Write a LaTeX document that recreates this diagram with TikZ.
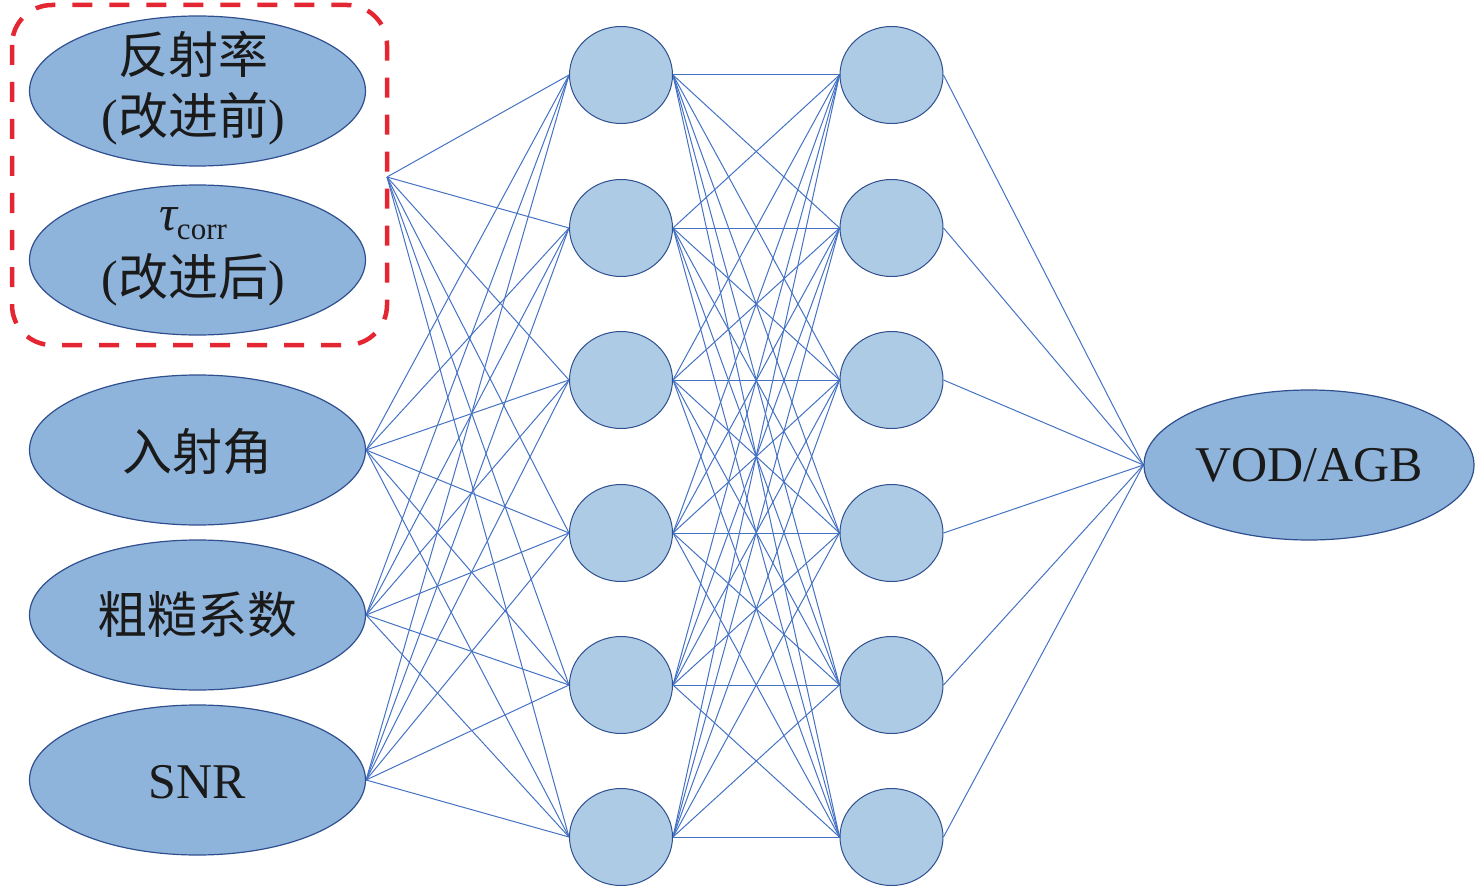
\documentclass[tikz,border=0pt]{standalone}
\usepackage{fontspec}
\setmainfont{Liberation Serif}
\newfontfamily\cjk{Noto Sans CJK SC}
\usetikzlibrary{shapes.geometric}
\definecolor{inFill}{HTML}{8FB4DC}
\definecolor{hidFill}{HTML}{AECBE6}
\definecolor{edgeC}{HTML}{2F4F8F}
\definecolor{linkC}{HTML}{4472C4}
\definecolor{boxRed}{HTML}{E32631}
\definecolor{txt}{HTML}{1A1A1A}
\pgfdeclarelayer{bg}
\pgfsetlayers{bg,main}
\begin{document}
\begin{tikzpicture}[x=1pt,y=-1pt,
  inell/.style={ellipse, draw=edgeC, line width=1.2pt, fill=inFill, minimum width=336pt, minimum height=150pt, inner sep=0pt},
  outell/.style={ellipse, draw=edgeC, line width=1.2pt, fill=inFill, minimum width=330pt, minimum height=150pt, inner sep=0pt},
  hid/.style={ellipse, draw=edgeC, line width=1pt, fill=hidFill, minimum width=103pt, minimum height=97pt, inner sep=0pt},
  lbl/.style={text=txt, font=\fontsize{50}{61}\selectfont, align=center, inner sep=0pt},
  link/.style={draw=linkC, line width=1pt},
  redbox/.style={draw=boxRed, line width=4.5pt, dash pattern=on 20pt off 17pt, rounded corners=40pt}]
\useasboundingbox (0,0) rectangle (1476,888);

% dashed group box
\draw[redbox] (12,5) rectangle (387,345);
\coordinate (boxR) at (387,177);

% input ellipses
\node[inell] (in1) at (197.5,91) {};
\node[inell] (in2) at (197.5,260) {};
\node[inell] (in3) at (197.5,450) {};
\node[inell] (in4) at (197.5,615) {};
\node[inell] (in5) at (197.5,780) {};

\node[lbl] (t1) at (193,88) {{\cjk 反射率}\\({\cjk 改进前})};
\node[lbl] (t2a) at (193,224) {{\itshape τ}\raisebox{-9pt}{\fontsize{31}{31}\selectfont corr}};
\node[lbl] (t2b) at (193,280) {({\cjk 改进后})};
\node[lbl] (t3) at (197,452) {\cjk 入射角};
\node[lbl] (t4) at (197,615) {\cjk 粗糙系数};
\node[lbl] (t5) at (197,782) {SNR};

% hidden layers
\foreach \i/\y in {1/75,2/228,3/380,4/533,5/685,6/837} {
  \node[hid] (a\i) at (621,\y) {};
  \node[hid] (b\i) at (891.5,\y) {};
}

% output
\node[outell] (out) at (1309,465) {};
\node[lbl] (tout) at (1309,465) {VOD/AGB};

\begin{pgfonlayer}{bg}
  \foreach \i in {1,...,6} {
    \draw[link] (boxR) -- (a\i.west);
    \draw[link] (in3.east) -- (a\i.west);
    \draw[link] (in4.east) -- (a\i.west);
    \draw[link] (in5.east) -- (a\i.west);
    \foreach \j in {1,...,6} {
      \draw[link] (a\i.east) -- (b\j.west);
    }
    \draw[link] (b\i.east) -- (out.west);
  }
\end{pgfonlayer}
\end{tikzpicture}
\end{document}
